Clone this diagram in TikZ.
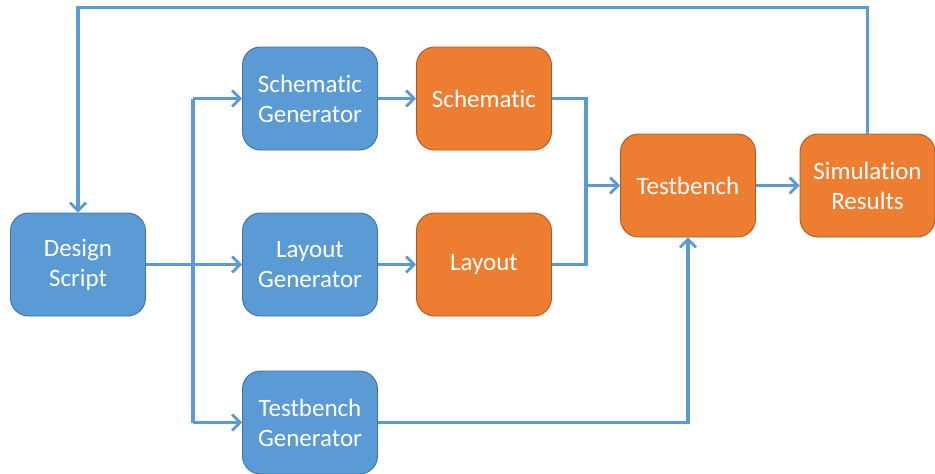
\documentclass[tikz,border=0pt]{standalone}
\usepackage{fontspec}
\setmainfont{Carlito}[Ligatures=NoCommon]
\usetikzlibrary{arrows.meta}
\definecolor{bfill}{HTML}{5B9BD5}
\definecolor{bdraw}{HTML}{41719C}
\definecolor{ofill}{HTML}{ED7D31}
\definecolor{odraw}{HTML}{AE5A21}
\definecolor{wire}{HTML}{5B9BD5}
\tikzset{
  box/.style={rectangle, rounded corners=18pt, minimum width=135pt, minimum height=103pt,
    line width=0.9pt, align=center, text=white, inner sep=0pt,
    font=\fontsize{25}{30}\selectfont},
  bluebox/.style={box, fill=bfill, draw=bdraw},
  orangebox/.style={box, fill=ofill, draw=odraw},
  wireline/.style={draw=wire, line width=3.2pt},
  arr/.style={wireline, -{Straight Barb[length=8pt,width=16pt,line width=2.8pt]}}
}
\begin{document}
\begin{tikzpicture}[x=1pt,y=-1pt]
\useasboundingbox (0,0) rectangle (935,474);
\node[bluebox] (ds) at (78,264.5) {Design\\Script};
\node[bluebox] (sg) at (310,98.5) {Schematic\\Generator};
\node[orangebox] (sch) at (484,98.5) {Schematic};
\node[bluebox] (lg) at (310,264.5) {Layout\\Generator};
\node[orangebox] (lay) at (484,264.5) {Layout};
\node[bluebox] (tg) at (310,422.5) {Testbench\\Generator};
\node[orangebox] (tb) at (688,185.5) {Testbench};
\node[orangebox] (sim) at (867.5,185.5) {Simulation\\Results};

\coordinate (spt) at (193,98.5);
\coordinate (spb) at (193,422.5);
\coordinate (mj) at (586,185.5);
\coordinate (topl) at (78,7.5);

\draw[arr] (ds.east) -- (lg.west);
\draw[wireline] (spt) -- (spb);
\draw[arr] (spt) -- (sg.west);
\draw[arr] (spb) -- (tg.west);
\draw[arr] (sg.east) -- (sch.west);
\draw[arr] (lg.east) -- (lay.west);
\draw[wireline] (sch.east) -| (mj) |- (lay.east);
\draw[arr] (mj) -- (tb.west);
\draw[arr] (tg.east) -| (tb.south);
\draw[arr] (tb.east) -- (sim.west);
\draw[arr] (sim.north) |- (topl) -- (ds.north);
\end{tikzpicture}
\end{document}
